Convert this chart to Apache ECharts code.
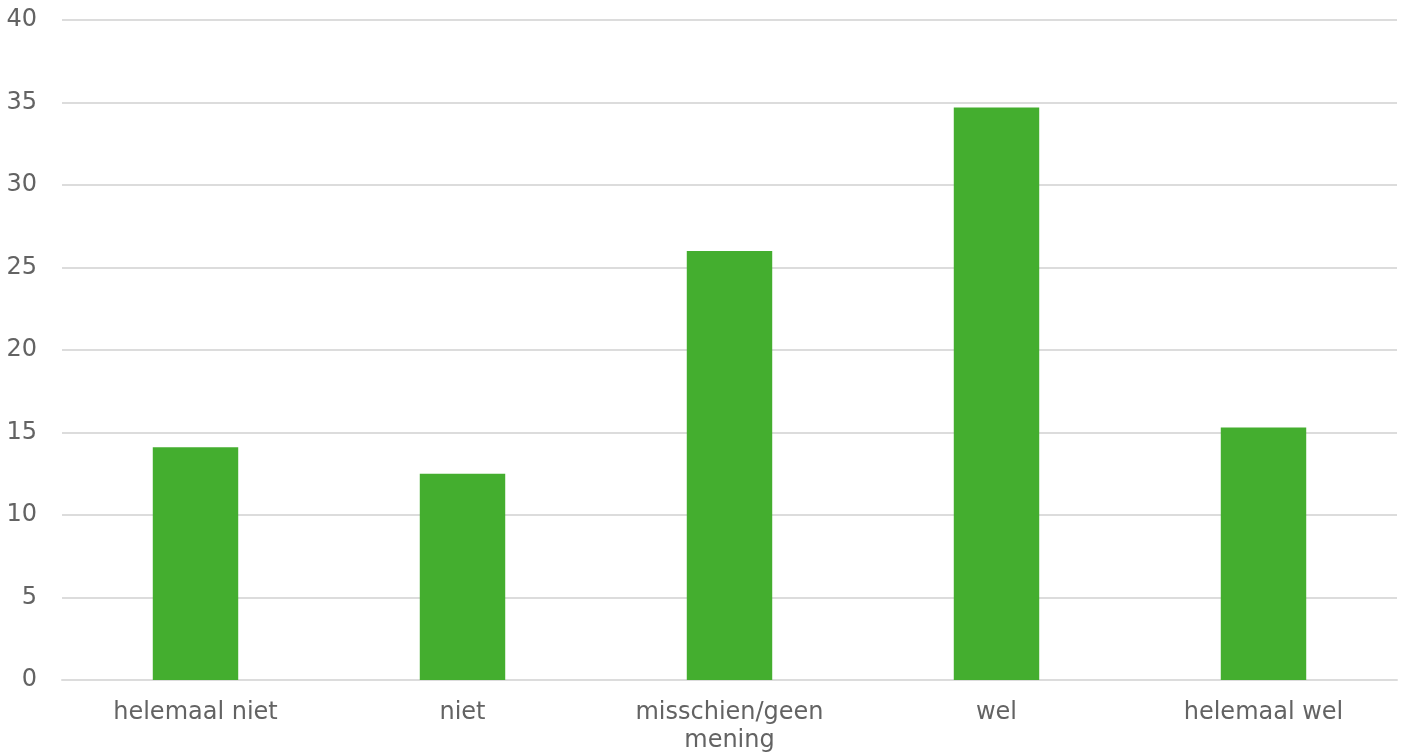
<!DOCTYPE html>
<html>
<head>
<meta charset="utf-8">
<script src="https://cdn.jsdelivr.net/npm/echarts@6/dist/echarts.min.js"></script>
<style>
  html, body { margin: 0; padding: 0; background: #ffffff; }
  #chart { width: 1405px; height: 755px; }
</style>
</head>
<body>
<div id="chart"></div>
<script>
// Answer categories (x axis)
const categories = ['helemaal niet', 'niet', 'misschien/geen\nmening', 'wel', 'helemaal wel'];
// Percentage of respondents per answer
const values = [14.1, 12.5, 26.0, 34.7, 15.3];
// Y axis range
const yMin = 0;
const yMax = 40;
const yStep = 5;

const textColor = '#636363';
const fontFamily = '"DejaVu Sans", Verdana, sans-serif';

const chart = echarts.init(document.getElementById('chart'), null, { renderer: 'canvas' });
chart.setOption({
  animation: false,
  backgroundColor: '#ffffff',
  grid: { left: 62, right: 8, top: 20, bottom: 74, containLabel: false },
  xAxis: {
    type: 'category',
    data: categories,
    axisLine: { show: true, lineStyle: { color: '#dcdcdc', width: 2 } },
    axisTick: { show: false },
    axisLabel: {
      color: textColor,
      fontFamily: fontFamily,
      fontSize: 24,
      margin: 19,
      lineHeight: 28,
      interval: 0
    }
  },
  yAxis: {
    type: 'value',
    min: yMin,
    max: yMax,
    interval: yStep,
    axisLine: { show: false },
    axisTick: { show: false },
    splitLine: { lineStyle: { color: '#dcdcdc', width: 2 } },
    axisLabel: {
      color: textColor,
      fontFamily: fontFamily,
      fontSize: 24,
      margin: 25
    }
  },
  series: [{
    type: 'bar',
    data: values,
    barWidth: '32%',
    itemStyle: { color: '#44ae2f' }
  }]
});
</script>
</body>
</html>
